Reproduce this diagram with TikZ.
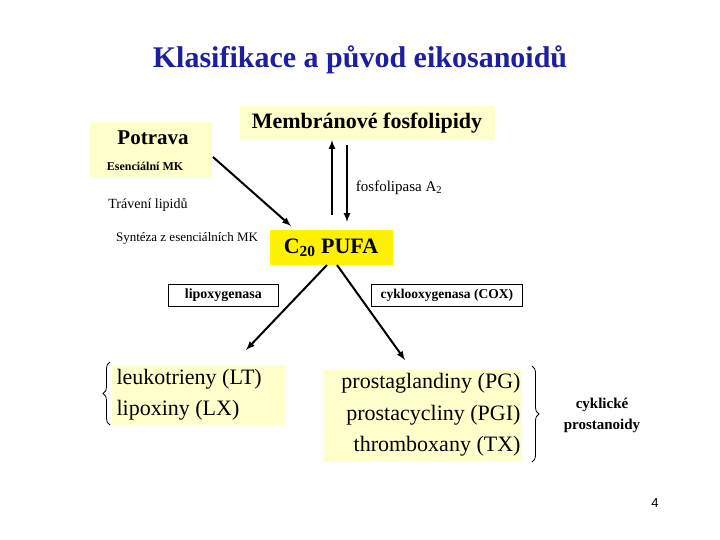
\documentclass[tikz,border=0pt]{standalone}
\usepackage{fontspec}
\setmainfont{Liberation Serif}
\setsansfont{Liberation Sans}
\usetikzlibrary{decorations.pathreplacing}
\definecolor{ltyel}{RGB}{255,255,204}
\definecolor{ttl}{RGB}{30,30,160}
\begin{document}
\begin{tikzpicture}[x=1pt,y=-1pt,
  arr/.style={-latex,line width=2pt},
  enz/.style={draw,line width=0.8pt,anchor=north west,inner sep=0}]
\useasboundingbox (0,0) rectangle (720,540);
\node (title) at (360,60) {\textcolor{ttl}{\bfseries\fontsize{30}{34}\selectfont Klasifikace a původ eikosanoidů}};
\fill[ltyel] (90,122) rectangle (212,178);
\node (pot) at (153,138) {\bfseries\fontsize{21}{24}\selectfont Potrava};
\node (ess) at (145,166) {\bfseries\fontsize{12}{14}\selectfont Esenciální MK};
\fill[ltyel] (240,106) rectangle (495,140);
\node (mem) at (367,123) {\bfseries\fontsize{22}{26}\selectfont Membránové fosfolipidy};
\fill[yellow] (270,230) rectangle (393,265);
\node (pufa) at (331,248) {\bfseries\fontsize{22}{26}\selectfont C\textsubscript{20} PUFA};
\node (trav) at (148,205) {\fontsize{14}{16}\selectfont Trávení lipidů};
\node (syn) at (187,238) {\fontsize{13}{15}\selectfont Syntéza z esenciálních MK};
\node (fos) at (399,188) {\fontsize{15}{17}\selectfont fosfolipasa A\textsubscript{2}};
\coordinate (a1) at (213,157); \coordinate (a2) at (291,226);
\draw[arr] (a1) -- (a2);
\coordinate (u1) at (332,215); \coordinate (u2) at (332,140);
\draw[arr] (u1) -- (u2);
\coordinate (d1) at (347,145); \coordinate (d2) at (347,222);
\draw[arr] (d1) -- (d2);
\node[enz,minimum width=110,minimum height=22] (lox) at (168,284) {};
\node at (lox.center) {\bfseries\fontsize{14}{16}\selectfont lipoxygenasa};
\node[enz,minimum width=151,minimum height=22] (cox) at (371,284) {};
\node at (cox.center) {\bfseries\fontsize{13.5}{16}\selectfont cyklooxygenasa (COX)};
\coordinate (l1) at (327,265); \coordinate (l2) at (246,350);
\draw[arr] (l1) -- (l2);
\coordinate (r1) at (337,265); \coordinate (r2) at (405,360);
\draw[arr] (r1) -- (r2);
\fill[ltyel] (112,365) rectangle (285,425);
\node[anchor=west] (lt) at (113,379) {\fontsize{22}{26}\selectfont leukotrieny (LT)};
\node[anchor=west] (lx) at (113,410) {\fontsize{22}{26}\selectfont lipoxiny (LX)};
\draw[decorate,decoration={brace,amplitude=7pt},line width=0.8pt] (110,425) -- (110,362);
\fill[ltyel] (323,370) rectangle (522,462);
\node[anchor=east] (pg) at (524,383) {\fontsize{22}{26}\selectfont prostaglandiny (PG)};
\node[anchor=east] (pgi) at (524,415) {\fontsize{22}{26}\selectfont prostacycliny (PGI)};
\node[anchor=east] (tx) at (524,446) {\fontsize{22}{26}\selectfont thromboxany (TX)};
\draw[decorate,decoration={brace,amplitude=7pt},line width=0.8pt] (532,366) -- (532,462);
\node[align=center,font=\bfseries\fontsize{15}{21}\selectfont] (cyk) at (602,415) {cyklické\\prostanoidy};
\node (num) at (655,503) {\sffamily\fontsize{13}{15}\selectfont 4};
\end{tikzpicture}
\end{document}
